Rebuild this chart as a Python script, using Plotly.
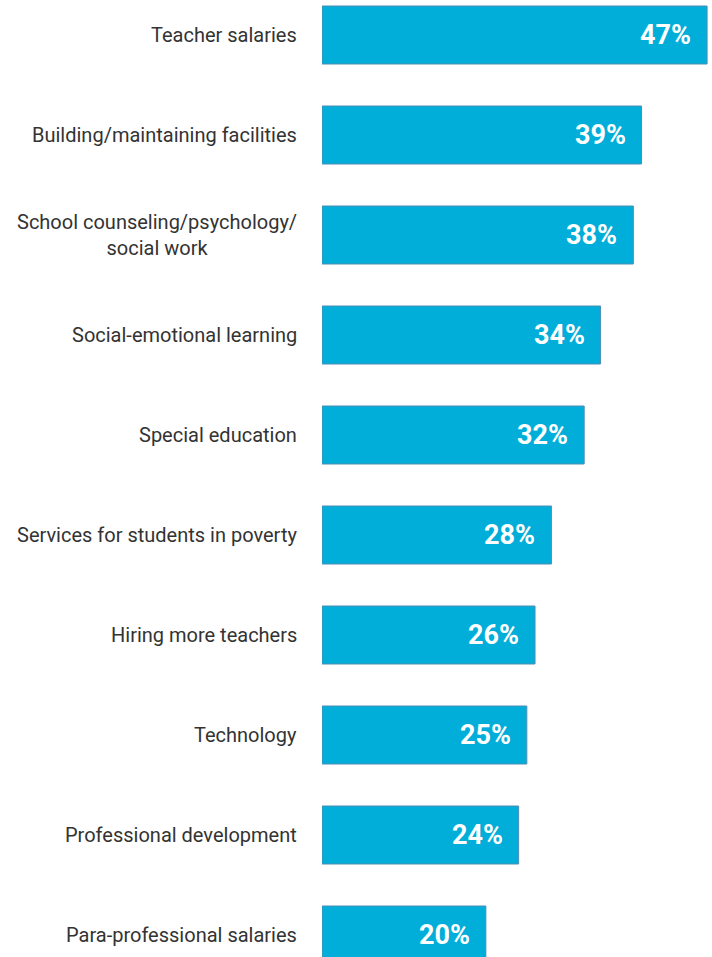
import plotly.graph_objects as go

categories = [
    "Teacher salaries",
    "Building/maintaining facilities",
    "School counseling/psychology/<br>social work",
    "Social-emotional learning",
    "Special education",
    "Services for students in poverty",
    "Hiring more teachers",
    "Technology",
    "Professional development",
    "Para-professional salaries",
]
values = [47, 39, 38, 34, 32, 28, 26, 25, 24, 20]
value_labels = [f"{v}%" for v in values]

BAR = "#00AED9"
EDGE = "#4F8DB3"

fig = go.Figure(
    go.Bar(
        x=values,
        y=categories,
        orientation="h",
        marker=dict(color=BAR, line=dict(color=EDGE, width=1)),
        width=0.58,
        hoverinfo="skip",
    )
)

annotations = []
for c, v, lab in zip(categories, values, value_labels):
    annotations.append(dict(
        x=v, y=c, xref="x", yref="y", text=f"<b>{lab}</b>",
        xanchor="right", yanchor="middle", xshift=-14, showarrow=False,
        font=dict(family="Roboto", size=27, color="white"),
    ))
    annotations.append(dict(
        x=0, y=c, xref="paper", yref="y", text=c,
        xanchor="right", yanchor="middle", xshift=-23, showarrow=False,
        align="center",
        font=dict(family="Roboto", size=20, color="#333333"),
    ))

fig.update_layout(
    width=712, height=957,
    margin=dict(l=322, r=0, t=0, b=0),
    paper_bgcolor="white", plot_bgcolor="white",
    showlegend=False,
    annotations=annotations,
    xaxis=dict(range=[0, 47.6], visible=False, fixedrange=True),
    yaxis=dict(
        categoryorder="array", categoryarray=categories,
        range=[9.22, -0.35], showticklabels=False, showgrid=False,
        zeroline=False, showline=False, ticks="", fixedrange=True,
    ),
)

fig.write_html(
    "out.html",
    config={"displayModeBar": False},
    post_script="document.body.style.margin='0';document.body.style.overflow='hidden';",
)
